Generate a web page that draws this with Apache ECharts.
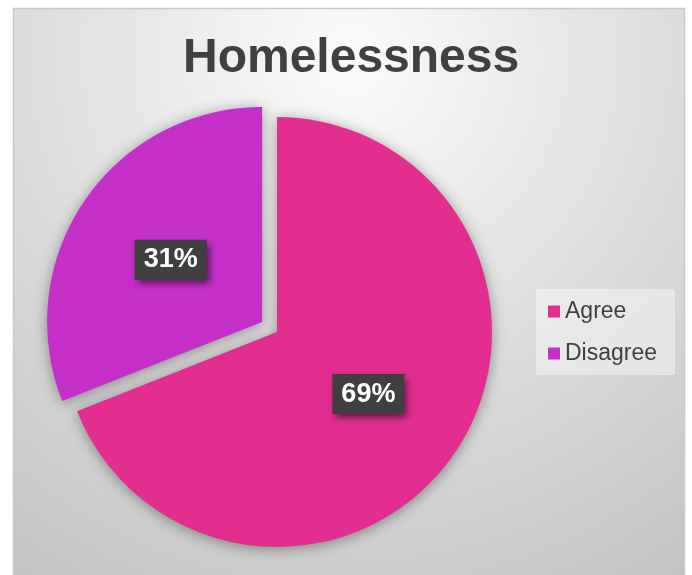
<!DOCTYPE html>
<html>
<head>
<meta charset="utf-8">
<script src="https://cdn.jsdelivr.net/npm/echarts@6/dist/echarts.min.js"></script>
<style>
  html, body { margin: 0; padding: 0; background: #ffffff; }
  #chart { width: 692px; height: 575px; }
</style>
</head>
<body>
<div id="chart"></div>
<script>
// Survey result: share of respondents per answer
const chartTitle = 'Homelessness';
const categories = ['Agree', 'Disagree'];
const values = [69, 31];
const explodedCategory = 'Disagree';

const palette = { Agree: '#e22e8f', Disagree: '#c42fc8' };

const chart = echarts.init(document.getElementById('chart'), null, { renderer: 'canvas' });

chart.setOption({
  animation: false,
  backgroundColor: '#ffffff',
  graphic: [{
    type: 'rect',
    z: -10,
    silent: true,
    shape: { x: 13.5, y: 8.5, width: 671, height: 600 },
    style: {
      fill: new echarts.graphic.RadialGradient(350, 60, 620, [
        { offset: 0, color: '#fbfbfb' },
        { offset: 1, color: '#c2c2c2' }
      ], true),
      stroke: '#c9c9c9',
      lineWidth: 1.5
    }
  }],
  title: {
    text: chartTitle,
    left: 178,
    top: 30,
    textStyle: {
      fontFamily: 'Liberation Sans, Arial, sans-serif',
      fontSize: 48,
      fontWeight: 'bold',
      color: '#404040'
    }
  },
  legend: {
    orient: 'vertical',
    left: 536,
    top: 289,
    padding: [11, 18, 10, 12],
    itemGap: 19,
    itemWidth: 12,
    itemHeight: 12,
    icon: 'rect',
    backgroundColor: 'rgba(244,244,244,0.55)',
    data: categories,
    selectedMode: false,
    textStyle: {
      fontFamily: 'Liberation Sans, Arial, sans-serif',
      fontSize: 23,
      color: '#404040'
    }
  },
  series: [{
    type: 'pie',
    center: [277, 332],
    radius: 215,
    startAngle: 90,
    clockwise: true,
    selectedMode: 'single',
    selectedOffset: 18,
    emphasis: { disabled: true },
    labelLine: { show: false },
    itemStyle: {
      shadowBlur: 14,
      shadowColor: 'rgba(0,0,0,0.38)',
      shadowOffsetX: 0,
      shadowOffsetY: 2
    },
    label: {
      show: true,
      position: 'inside',
      formatter: p => p.value + '%',
      fontFamily: 'Liberation Sans, Arial, sans-serif',
      fontSize: 27,
      fontWeight: 'bold',
      color: '#ffffff',
      lineHeight: 27,
      padding: [7, 9, 6, 9],
      backgroundColor: '#3f3f3f',
      shadowBlur: 7,
      shadowColor: 'rgba(0,0,0,0.55)',
      shadowOffsetX: 3,
      shadowOffsetY: 4
    },
    data: categories.map((name, i) => ({
      name,
      value: values[i],
      selected: name === explodedCategory,
      itemStyle: { color: palette[name] }
    }))
  }]
});
</script>
</body>
</html>
